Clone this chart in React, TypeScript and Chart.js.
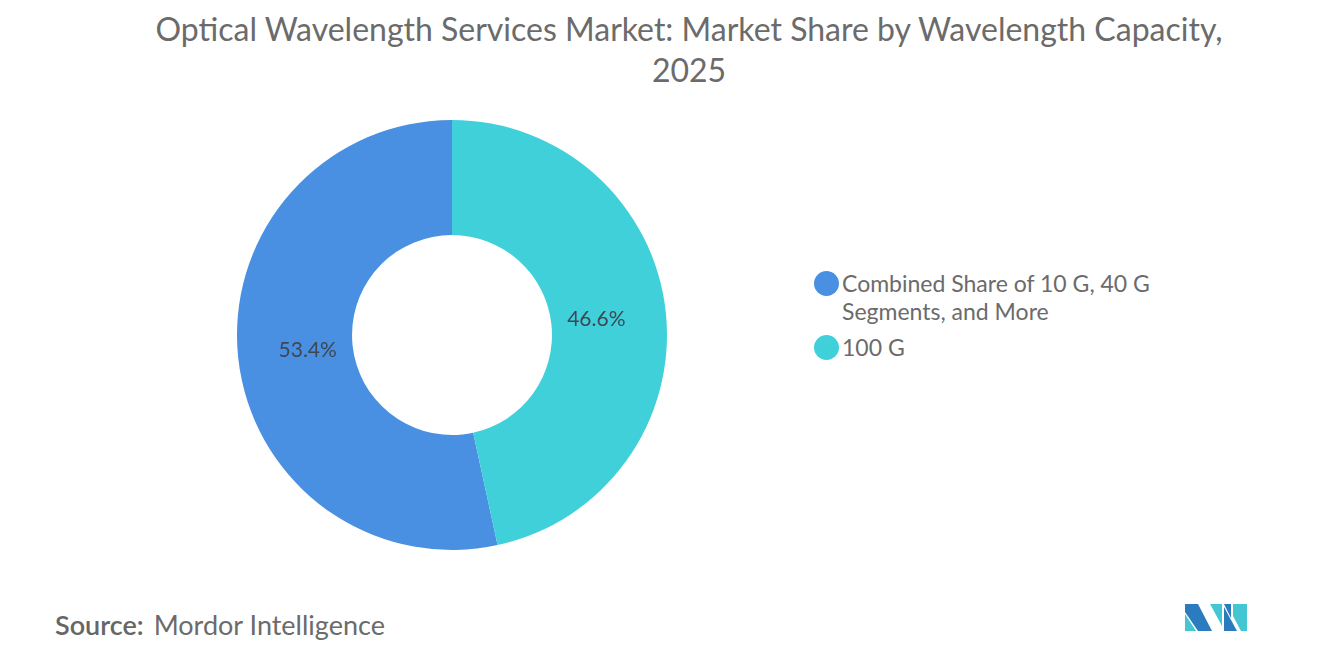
import { useEffect, useRef } from "react";
import { Chart, ArcElement, DoughnutController, Plugin } from "chart.js";

Chart.register(ArcElement, DoughnutController);

const categories = ["Combined Share of 10 G, 40 G Segments, and More", "100 G"];
const legendLines = [["Combined Share of 10 G, 40 G", "Segments, and More"], ["100 G"]];
const shares = [53.4, 46.6];
const colors = ["#4A90E2", "#40D0DA"];

const FONT = "Lato, 'Open Sans', sans-serif";

// percentage labels inside each slice
const sliceLabels: Plugin<"doughnut"> = {
  id: "sliceLabels",
  afterDatasetsDraw(chart) {
    const ctx = chart.ctx;
    const meta = chart.getDatasetMeta(0);
    ctx.save();
    ctx.font = `21px ${FONT}`;
    ctx.fillStyle = "#3d4852";
    ctx.textAlign = "center";
    ctx.textBaseline = "middle";
    meta.data.forEach((arc: any, i) => {
      const { x, y, startAngle, endAngle, outerRadius } = arc.getProps(
        ["x", "y", "startAngle", "endAngle", "outerRadius"],
        true
      );
      const mid = (startAngle + endAngle) / 2;
      const r = outerRadius * 0.675;
      ctx.fillText(`${shares[i]}%`, x + Math.cos(mid) * r, y + Math.sin(mid) * r);
    });
    ctx.restore();
  },
};

function DonutChart() {
  const canvasRef = useRef<HTMLCanvasElement>(null);
  const chartRef = useRef<Chart | null>(null);

  useEffect(() => {
    if (!canvasRef.current) return;
    const total = shares.reduce((a, b) => a + b, 0);
    // first slice ends at 12 o'clock
    const rotation = (shares[1] / total) * 360;

    chartRef.current = new Chart(canvasRef.current, {
      type: "doughnut",
      data: {
        labels: categories,
        datasets: [
          {
            data: shares,
            backgroundColor: colors,
            borderWidth: 0,
          },
        ],
      },
      options: {
        animation: false,
        responsive: false,
        rotation,
        cutout: "46.5%",
        layout: { padding: 0 },
        plugins: {
          legend: { display: false },
          tooltip: { enabled: false },
        },
      },
      plugins: [sliceLabels],
    });

    return () => {
      chartRef.current?.destroy();
      chartRef.current = null;
    };
  }, []);

  return <canvas ref={canvasRef} width={430} height={430} style={{ position: "absolute", left: 237, top: 120 }} />;
}

export default function App() {
  useEffect(() => {
    document.body.style.margin = "0";
  }, []);

  return (
    <div
      style={{
        position: "relative",
        width: 1320,
        height: 665,
        background: "#fff",
        fontFamily: FONT,
        color: "#666",
        overflow: "hidden",
      }}
    >
      <div
        style={{
          position: "absolute",
          left: 0,
          top: 8,
          width: 1378,
          textAlign: "center",
          fontSize: 32,
          lineHeight: "41px",
          color: "#6b6b6b",
        }}
      >
        Optical Wavelength Services Market: Market Share by Wavelength Capacity,
        <br />
        2025
      </div>

      <DonutChart />

      {/* Legend */}
      <div style={{ position: "absolute", left: 814, top: 269, fontSize: 23, color: "#6b6b6b" }}>
        {legendLines.map((lines, i) => (
          <div key={i} style={{ display: "flex", alignItems: "flex-start", marginBottom: 8 }}>
            <div
              style={{
                width: 25,
                height: 25,
                borderRadius: "50%",
                background: colors[i],
                marginTop: 2,
                marginRight: 3,
                flexShrink: 0,
              }}
            />
            <div style={{ lineHeight: "28px" }}>
              {lines.map((l, j) => (
                <div key={j}>{l}</div>
              ))}
            </div>
          </div>
        ))}
      </div>

      {/* Source */}
      <div style={{ position: "absolute", left: 55, top: 608, fontSize: 27, color: "#6b6b6b" }}>
        <span style={{ fontWeight: 600, color: "#666" }}>Source:</span>
        <span style={{ marginLeft: 10 }}>Mordor Intelligence</span>
      </div>

      {/* Logo */}
      <svg style={{ position: "absolute", left: 1185, top: 604 }} width={64} height={28} viewBox="0 0 64 28">
        <polygon points="0,0 13,0 27,27 13,27 0,8" fill="#2B7BBF" />
        <polygon points="0,10 0,27 11,27" fill="#45C7D3" />
        <polygon points="25,0 37,0 37,22" fill="#45C7D3" />
        <polygon points="39,0 46,0 46,14" fill="#2B7BBF" />
        <polygon points="39,5 39,27 52,27 39,3" fill="#2B7BBF" />
        <polygon points="48,0 62,0 62,27 56,27 48,12" fill="#45C7D3" />
      </svg>
    </div>
  );
}
